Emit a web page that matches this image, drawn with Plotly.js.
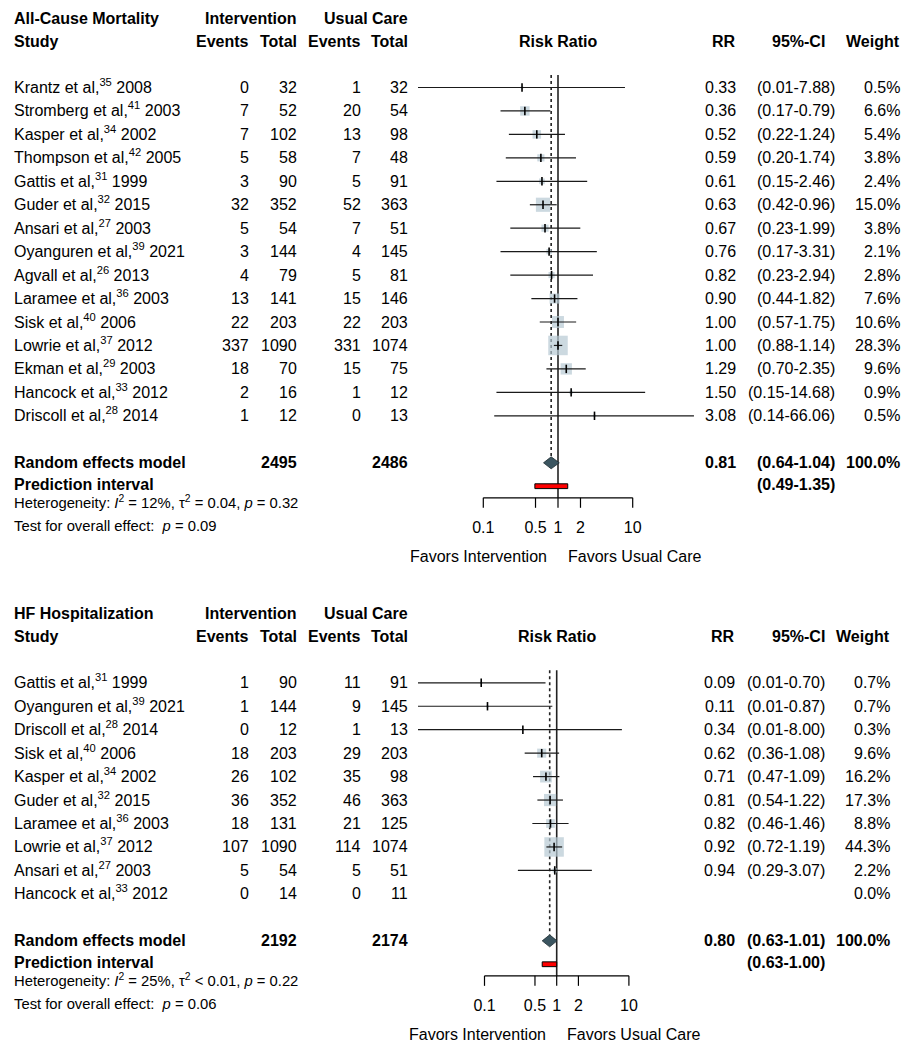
<!DOCTYPE html>
<html>
<head>
<meta charset="utf-8">
<script src="https://cdn.plot.ly/plotly-3.0.1.min.js"></script>
<style>html,body{margin:0;padding:0;background:#fff;}</style>
</head>
<body>
<div id="chart" style="width:911px;height:1050px;"></div>
<script>
// ---------------- DATA: All-Cause Mortality ----------------
const mortStudy = ["Krantz et al,<sup>35</sup> 2008", "Stromberg et al,<sup>41</sup> 2003", "Kasper et al,<sup>34</sup> 2002",
  "Thompson et al,<sup>42</sup> 2005", "Gattis et al,<sup>31</sup> 1999", "Guder et al,<sup>32</sup> 2015",
  "Ansari et al,<sup>27</sup> 2003", "Oyanguren et al,<sup>39</sup> 2021", "Agvall et al,<sup>26</sup> 2013",
  "Laramee et al,<sup>36</sup> 2003", "Sisk et al,<sup>40</sup> 2006", "Lowrie et al,<sup>37</sup> 2012",
  "Ekman et al,<sup>29</sup> 2003", "Hancock et al,<sup>33</sup> 2012", "Driscoll et al,<sup>28</sup> 2014"];
const mortEventsInt = [0, 7, 7, 5, 3, 32, 5, 3, 4, 13, 22, 337, 18, 2, 1];
const mortTotalInt  = [32, 52, 102, 58, 90, 352, 54, 144, 79, 141, 203, 1090, 70, 16, 12];
const mortEventsUC  = [1, 20, 13, 7, 5, 52, 7, 4, 5, 15, 22, 331, 15, 1, 0];
const mortTotalUC   = [32, 54, 98, 48, 91, 363, 51, 145, 81, 146, 203, 1074, 75, 12, 13];
const mortRR    = [0.33, 0.36, 0.52, 0.59, 0.61, 0.63, 0.67, 0.76, 0.82, 0.90, 1.00, 1.00, 1.29, 1.50, 3.08];
const mortLower = [0.01, 0.17, 0.22, 0.20, 0.15, 0.42, 0.23, 0.17, 0.23, 0.44, 0.57, 0.88, 0.70, 0.15, 0.14];
const mortUpper = [7.88, 0.79, 1.24, 1.74, 2.46, 0.96, 1.99, 3.31, 2.94, 1.82, 1.75, 1.14, 2.35, 14.68, 66.06];
const mortWeight = [0.5, 6.6, 5.4, 3.8, 2.4, 15.0, 3.8, 2.1, 2.8, 7.6, 10.6, 28.3, 9.6, 0.9, 0.5];
const mortTotals = [2495, 2486];
const mortRandom = [0.81, 0.64, 1.04];
const mortPredInt = [0.49, 1.35];
const mortHet = "Heterogeneity: <i>I</i><sup>2</sup> = 12%, τ<sup>2</sup> = 0.04, <i>p</i> = 0.32";
const mortTest = "Test for overall effect:  <i>p</i> = 0.09";

// ---------------- DATA: HF Hospitalization ----------------
const hfStudy = ["Gattis et al,<sup>31</sup> 1999", "Oyanguren et al,<sup>39</sup> 2021", "Driscoll et al,<sup>28</sup> 2014",
  "Sisk et al,<sup>40</sup> 2006", "Kasper et al,<sup>34</sup> 2002", "Guder et al,<sup>32</sup> 2015",
  "Laramee et al,<sup>36</sup> 2003", "Lowrie et al,<sup>37</sup> 2012", "Ansari et al,<sup>27</sup> 2003",
  "Hancock et al,<sup>33</sup> 2012"];
const hfEventsInt = [1, 1, 0, 18, 26, 36, 18, 107, 5, 0];
const hfTotalInt  = [90, 144, 12, 203, 102, 352, 131, 1090, 54, 14];
const hfEventsUC  = [11, 9, 1, 29, 35, 46, 21, 114, 5, 0];
const hfTotalUC   = [91, 145, 13, 203, 98, 363, 125, 1074, 51, 11];
const hfRR    = [0.09, 0.11, 0.34, 0.62, 0.71, 0.81, 0.82, 0.92, 0.94, null];
const hfLower = [0.01, 0.01, 0.01, 0.36, 0.47, 0.54, 0.46, 0.72, 0.29, null];
const hfUpper = [0.70, 0.87, 8.00, 1.08, 1.09, 1.22, 1.46, 1.19, 3.07, null];
const hfWeight = [0.7, 0.7, 0.3, 9.6, 16.2, 17.3, 8.8, 44.3, 2.2, 0.0];
const hfTotals = [2192, 2174];
const hfRandom = [0.80, 0.63, 1.01];
const hfPredInt = [0.63, 1.00];
const hfHet = "Heterogeneity: <i>I</i><sup>2</sup> = 25%, τ<sup>2</sup> &lt; 0.01, <i>p</i> = 0.22";
const hfTest = "Test for overall effect:  <i>p</i> = 0.06";

// ---------------- AXIS LABELS ----------------
const axisTicks = [0.1, 0.5, 1, 2, 10];
const axisTickLabels = ["0.1", "0.5", "1", "2", "10"];
const nullEffect = 1;
const favorsLeft = "Favors Intervention";
const favorsRight = "Favors Usual Care";

// ---------------- LAYOUT / STYLE ----------------
const FONT = "Liberation Sans, Arial, Helvetica, sans-serif";
const FS = 16, FS_SMALL = 14.8;
const PITCH = 23.45;
const BOX_COLOR = "#b6c9d3";
const DIAMOND_COLOR = "#3b5560";
const MAX_BOX = 19.5;

const traces = [];
const annos = [];

function txt(x, y, text, anchor, opts) {
  opts = opts || {};
  const hasSup = text.indexOf("<sup>") >= 0;
  annos.push({
    xref: opts.xref || "x", yref: "y", x: x, y: y, text: text,
    showarrow: false, xanchor: anchor, yanchor: "middle", borderpad: 0,
    xshift: opts.xshift || 0, yshift: hasSup ? 1.5 : 0,
    font: {family: FONT, size: opts.size || FS, color: "#000"}
  });
}
const b = s => "<b>" + s + "</b>";

function buildPanel(d, L) {
  const xa = L.xa;
  const rowY = i => L.y0 + 69.5 + i * PITCH;
  const n = d.study.length;
  const reY = rowY(n - 1) + 47;
  const piY = reY + 23.4;
  const axisY = reY + 35;
  const hetY = reY + 41;
  const testY = reY + 63;
  const tickLabY = reY + 66.5;
  const favY = reY + 94;
  const topY = rowY(0) - 12.5;
  const logNull = Math.log10(nullEffect); // annotations on log axes take log10 positions

  // headers
  txt(L.studyX, L.y0, b(d.title), "left");
  txt(L.totI, L.y0, b("Intervention"), "right");
  txt(L.totC, L.y0, b("Usual Care"), "right");
  const h2 = L.y0 + PITCH;
  txt(L.studyX, h2, b("Study"), "left");
  txt(L.evI, h2, b("Events"), "right");
  txt(L.totI, h2, b("Total"), "right");
  txt(L.evC, h2, b("Events"), "right");
  txt(L.totC, h2, b("Total"), "right");
  txt(logNull, h2, b("Risk Ratio"), "center", {xref: xa});
  txt(L.rr, h2, b("RR"), "right");
  txt(L.ciHdr, h2, b("95%-CI"), "right");
  txt(L.w, h2, b("Weight"), "right");

  // study rows
  for (let i = 0; i < n; i++) {
    const y = rowY(i);
    txt(L.studyX, y, d.study[i], "left");
    txt(L.evI, y, String(d.evI[i]), "right");
    txt(L.totI, y, String(d.totI[i]), "right");
    txt(L.evC, y, String(d.evC[i]), "right");
    txt(L.totC, y, String(d.totC[i]), "right");
    if (d.rr[i] !== null) {
      txt(L.rr, y, d.rr[i].toFixed(2), "right");
      txt(L.ci, y, "(" + d.lo[i].toFixed(2) + "-" + d.hi[i].toFixed(2) + ")", "right");
    }
    txt(L.w, y, d.w[i].toFixed(1) + "%", "right");
  }
  // pooled rows
  txt(L.studyX, reY, b("Random effects model"), "left");
  txt(L.totI, reY, b(String(d.totals[0])), "right");
  txt(L.totC, reY, b(String(d.totals[1])), "right");
  txt(L.rr, reY, b(d.re[0].toFixed(2)), "right");
  txt(L.ci, reY, b("(" + d.re[1].toFixed(2) + "-" + d.re[2].toFixed(2) + ")"), "right");
  txt(L.w, reY, b("100.0%"), "right");
  txt(L.studyX, piY - 1.5, b("Prediction interval"), "left");
  txt(L.ci, piY - 1.5, b("(" + d.pi[0].toFixed(2) + "-" + d.pi[1].toFixed(2) + ")"), "right");
  txt(L.studyX, hetY, d.het, "left", {size: FS_SMALL});
  txt(L.studyX, testY, d.test, "left", {size: FS_SMALL});

  // favors labels
  txt(logNull, favY, favorsLeft, "right", {xref: xa, xshift: -10});
  txt(logNull, favY, favorsRight, "left", {xref: xa, xshift: 9});

  const base = {xaxis: xa, yaxis: "y", hoverinfo: "skip", showlegend: false};

  // reference line at null effect
  traces.push(Object.assign({}, base, {type: "scatter", mode: "lines",
    x: [nullEffect, nullEffect], y: [topY, axisY], line: {color: "#222", width: 1.6}}));
  // dashed line at pooled estimate
  traces.push(Object.assign({}, base, {type: "scatter", mode: "lines",
    x: [d.re[0], d.re[0]], y: [topY, reY - 6], line: {color: "#222", width: 1.6, dash: "dot"}}));

  // squares
  const wmax = Math.max.apply(null, d.w);
  const sx = [], sy = [], ss = [];
  const lx = [], ly = [];
  for (let i = 0; i < n; i++) {
    if (d.rr[i] === null) continue;
    sx.push(d.rr[i]); sy.push(rowY(i)); ss.push(MAX_BOX * Math.sqrt(d.w[i] / wmax));
    lx.push(d.lo[i], d.hi[i], null); ly.push(rowY(i), rowY(i), null);
  }
  traces.push(Object.assign({}, base, {type: "scatter", mode: "markers", x: sx, y: sy,
    marker: {symbol: "square", size: ss, color: BOX_COLOR, line: {width: 0}}}));
  // confidence intervals
  traces.push(Object.assign({}, base, {type: "scatter", mode: "lines", x: lx, y: ly,
    line: {color: "#1a1a1a", width: 1.2}, connectgaps: false}));
  // point estimates
  traces.push(Object.assign({}, base, {type: "scatter", mode: "markers", x: sx, y: sy,
    marker: {symbol: "line-ns-open", size: 6, color: "#000", line: {color: "#000", width: 1.6}}}));

  // diamond
  traces.push(Object.assign({}, base, {type: "scatter", mode: "lines", fill: "toself",
    x: [d.re[1], d.re[0], d.re[2], d.re[0], d.re[1]],
    y: [reY, reY - 6, reY, reY + 6, reY],
    fillcolor: DIAMOND_COLOR, line: {color: "#1d2b30", width: 0.8}}));
  // prediction interval bar
  traces.push(Object.assign({}, base, {type: "scatter", mode: "lines", fill: "toself",
    x: [d.pi[0], d.pi[1], d.pi[1], d.pi[0], d.pi[0]],
    y: [piY - 2.4, piY - 2.4, piY + 2.4, piY + 2.4, piY - 2.4],
    fillcolor: "#ff0000", line: {color: "#000", width: 1}}));

  // axis line and ticks
  const ax = [axisTicks[0], axisTicks[axisTicks.length - 1]], ay = [axisY, axisY];
  for (const t of axisTicks) { ax.push(null, t, t); ay.push(null, axisY, axisY + 10); }
  traces.push(Object.assign({}, base, {type: "scatter", mode: "lines", x: ax, y: ay,
    line: {color: "#000", width: 1.2}}));
  traces.push(Object.assign({}, base, {type: "scatter", mode: "text", x: axisTicks,
    y: axisTicks.map(() => tickLabY), text: axisTickLabels, textposition: "middle center",
    cliponaxis: false, textfont: {family: FONT, size: FS, color: "#000"}}));
}

buildPanel({title: "All-Cause Mortality", study: mortStudy, evI: mortEventsInt, totI: mortTotalInt,
  evC: mortEventsUC, totC: mortTotalUC, rr: mortRR, lo: mortLower, hi: mortUpper, w: mortWeight,
  totals: mortTotals, re: mortRandom, pi: mortPredInt, het: mortHet, test: mortTest},
  {xa: "x2", y0: 18, studyX: 13, evI: 250, totI: 298, evC: 362, totC: 409, rr: 737, ci: 836, ciHdr: 826, w: 901});

buildPanel({title: "HF Hospitalization", study: hfStudy, evI: hfEventsInt, totI: hfTotalInt,
  evC: hfEventsUC, totC: hfTotalUC, rr: hfRR, lo: hfLower, hi: hfUpper, w: hfWeight,
  totals: hfTotals, re: hfRandom, pi: hfPredInt, het: hfHet, test: hfTest},
  {xa: "x3", y0: 613.3, studyX: 13, evI: 250, totI: 298, evC: 362, totC: 409, rr: 736, ci: 826, ciHdr: 826, w: 891});

// forest axes: pixel mapping -> log ranges
const W = 911, FL = 418, FR = 700;
function logRange(onePx, pxPerDec) { return [(FL - onePx) / pxPerDec, (FR - onePx) / pxPerDec]; }
const hidden = {visible: false, showgrid: false, zeroline: false, fixedrange: true};

const layout = {
  width: 911, height: 1050,
  margin: {l: 0, r: 0, t: 0, b: 0, pad: 0},
  paper_bgcolor: "#ffffff", plot_bgcolor: "rgba(0,0,0,0)",
  showlegend: false, hovermode: false,
  font: {family: FONT, size: FS, color: "#000"},
  xaxis: Object.assign({range: [0, W], domain: [0, 1], anchor: "y"}, hidden),
  yaxis: Object.assign({range: [1050, 0], domain: [0, 1], anchor: "x"}, hidden),
  xaxis2: Object.assign({type: "log", range: logRange(558, 74.7), domain: [FL / W, FR / W], anchor: "y"}, hidden),
  xaxis3: Object.assign({type: "log", range: logRange(556.7, 72.2), domain: [FL / W, FR / W], anchor: "y"}, hidden),
  annotations: annos
};
// a placeholder trace so the table axis pair exists
traces.unshift({type: "scatter", mode: "markers", x: [], y: [], xaxis: "x", yaxis: "y", showlegend: false, hoverinfo: "skip"});

Plotly.newPlot("chart", traces, layout, {staticPlot: true, displayModeBar: false});
</script>
</body>
</html>
